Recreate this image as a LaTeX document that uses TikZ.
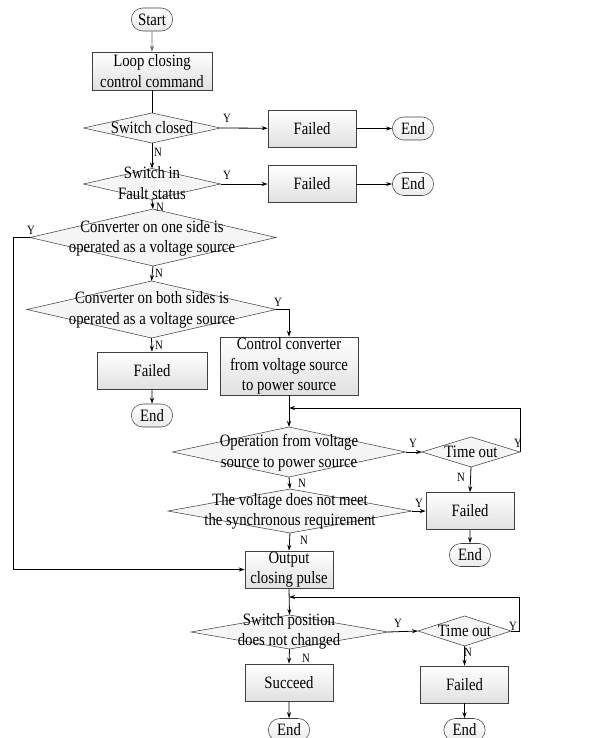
\documentclass[tikz,border=0pt]{standalone}
\usepackage{fontspec}
\setmainfont{Liberation Serif}[FakeStretch=0.85]
\usetikzlibrary{shapes.geometric,shapes.misc,arrows.meta}
\begin{document}
\begin{tikzpicture}[x=0.75pt,y=-0.75pt, font=\fontsize{13}{15.5}\selectfont,
 box/.style={draw=black!75, top color=white, bottom color=black!12, inner sep=0, align=center, minimum width=66pt, minimum height=27.75pt},
 term/.style={draw=black!75, rounded rectangle, top color=white, bottom color=black!8, minimum width=33pt, minimum height=17.25pt, inner sep=1pt},
 dia/.style={draw=black!75, diamond, fill=black!4, inner sep=0, outer sep=0},
 txt/.style={align=center, inner sep=0},
 lbl/.style={font=\fontsize{9.5}{10}\selectfont, inner sep=0},
 arr/.style={-{Stealth[length=4.5pt,width=3pt]}, line width=0.6pt},
 ln/.style={line width=0.6pt}]
\useasboundingbox (0,0) rectangle (601,738);

% terminals and boxes
\node[term] (start) at (152,19.5) {Start};
\node[box, minimum width=90pt, minimum height=28.5pt] (loop) at (152,71) {Loop closing\\control command};

% diamonds
\node[dia, minimum width=102.75pt, minimum height=22.5pt] (d1) at (152,128) {};
\node[txt] (d1t) at (152,128) {Switch closed};
\node[dia, minimum width=102.75pt, minimum height=23.25pt] (d2) at (152,184) {};
\node[txt] (d2t) at (152,183) {Switch in\\Fault status};
\node[dia, minimum width=184.5pt, minimum height=42.75pt] (d3) at (153,237.5) {};
\node[txt] (d3t) at (152,238.5) {Converter on one side is\\operated as a voltage source};
\node[dia, minimum width=186.75pt, minimum height=42.75pt] (d4) at (151.5,309.5) {};
\node[txt] (d4t) at (152,310) {Converter on both sides is\\operated as a voltage source};
\node[dia, minimum width=174.75pt, minimum height=37.5pt] (d5) at (289,452) {};
\node[txt] (d5t) at (289,452.5) {Operation from voltage\\source to power source};
\node[dia, minimum width=183pt, minimum height=33pt] (d6) at (290,511) {};
\node[txt] (d6t) at (290,511.5) {The voltage does not meet\\the synchronous requirement};
\node[dia, minimum width=147.75pt, minimum height=25.5pt] (d7) at (289.5,632) {};
\node[txt] (d7t) at (289,631.5) {Switch position\\does not changed};
\node[dia, minimum width=73.5pt, minimum height=22.5pt] (t1) at (471,452) {};
\node[txt] (t1t) at (471,452) {Time out};
\node[dia, minimum width=69.75pt, minimum height=22.5pt] (t2) at (464.5,631) {};
\node[txt] (t2t) at (464.5,631) {Time out};

% right side fail boxes
\node[box] (f1) at (312,128.5) {Failed};
\node[term] (e1) at (413,128.5) {End};
\node[box] (f2) at (312,184) {Failed};
\node[term] (e2) at (413,184) {End};
\node[box, minimum width=82.5pt] (f3) at (152,370.5) {Failed};
\node[term] (e3) at (152,415.5) {End};
\node[box, minimum width=103.5pt, minimum height=43.5pt] (ctrl) at (289,366) {Control converter\\from voltage source\\to power source};
\node[box] (f4) at (470,511) {Failed};
\node[term] (e4) at (470,555) {End};
\node[box] (out) at (289,569.5) {Output\\closing pulse};
\node[box] (succ) at (289,682.5) {Succeed};
\node[term] (e5) at (289,730) {End};
\node[box] (f5) at (464.5,684.5) {Failed};
\node[term] (e6) at (464.5,730) {End};

\coordinate (j1) at (289,408);
\coordinate (j2) at (289,597);

% connectors
\draw[arr, draw=black!60] (start) -- (loop);
\draw[ln] (loop) -- (d1.north);
\draw[arr] (d1.east) -- (f1);
\draw[arr] (f1) -- (e1);
\draw[arr] (d1.south) -- (d2.north);
\draw[arr] (d2.east) -- (f2);
\draw[arr] (f2) -- (e2);
\draw[arr] (d2.south) -- (d3.north);
\draw[arr] (d3.west) -- ++(-17,0) |- (out.west);
\draw[arr] (d3.south) -- (d4.north);
\draw[arr] (d4.east) -| (ctrl.north);
\draw[arr] (d4.south) -- (f3.north);
\draw[arr] (f3) -- (e3);
\draw[arr] (ctrl.south) -- (d5.north);
\draw[arr] (t1.east) |- (j1);
\draw[arr] (d5.east) -- (t1.west);
\draw[arr] (t1.south) -- (f4.north);
\draw[arr] (f4) -- (e4);
\draw[arr] (d5.south) -- (d6.north);
\draw[arr] (d6.east) -- (f4.west);
\draw[arr] (d6.south) -- (out.north);
\draw[arr] (out.south) -- (d7.north);
\draw[arr] (t2.east) -- ++(8,0) |- (j2);
\draw[arr] (d7.east) -- (t2.west);
\draw[arr] (d7.south) -- (succ.north);
\draw[arr] (t2.south) -- (f5.north);
\draw[arr] (succ) -- (e5);
\draw[arr] (f5) -- (e6);

% labels
\node[lbl] (y1) at (227,118) {Y};
\node[lbl] (n1) at (158,152) {N};
\node[lbl] (y2) at (227,175) {Y};
\node[lbl] (n2) at (160,207.5) {N};
\node[lbl] (y3) at (31,230) {Y};
\node[lbl] (n3) at (159,273) {N};
\node[lbl] (y4) at (278,302) {Y};
\node[lbl] (n4) at (159,345) {N};
\node[lbl] (y5) at (413,443) {Y};
\node[lbl] (y6) at (518,443) {Y};
\node[lbl] (n5) at (461,477) {N};
\node[lbl] (n6) at (302,483) {N};
\node[lbl] (y7) at (419,503) {Y};
\node[lbl] (n7) at (304,540) {N};
\node[lbl] (y8) at (398,623) {Y};
\node[lbl] (y9) at (513,626) {Y};
\node[lbl] (n8) at (306,658) {N};
\node[lbl] (n9) at (468,652) {N};
\end{tikzpicture}
\end{document}
